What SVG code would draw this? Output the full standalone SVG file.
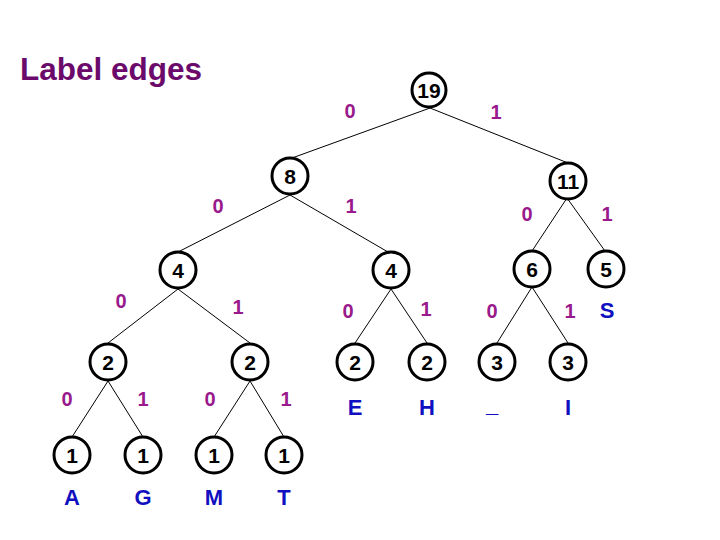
<svg xmlns="http://www.w3.org/2000/svg" width="720" height="540" viewBox="0 0 720 540">
<style>
.n circle{fill:#fff;stroke:#000;stroke-width:3}
.n text{font-family:"Liberation Sans",Arial,sans-serif;font-size:21px;font-weight:bold;fill:#000;text-anchor:middle}
.e line{stroke:#000;stroke-width:1}
.lb{font-family:"Liberation Sans",Arial,sans-serif;font-size:20px;font-weight:bold;fill:#991a8c;text-anchor:middle}
.ch{font-family:"Liberation Sans",Arial,sans-serif;font-size:22px;font-weight:bold;fill:#1010c0;text-anchor:middle}
</style>
<rect width="720" height="540" fill="#fff"/>
<text x="20" y="80" font-family="Liberation Sans,Arial,sans-serif" font-size="31.5" font-weight="bold" fill="#6b0a6b">Label edges</text>
<g id="edges" class="e">
<line x1="430" y1="108" x2="292" y2="158"/>
<line x1="430" y1="108" x2="568" y2="163"/>
<line x1="290" y1="195" x2="178" y2="252"/>
<line x1="290" y1="195" x2="388" y2="252"/>
<line x1="567" y1="198" x2="532" y2="251"/>
<line x1="567" y1="198" x2="605" y2="251"/>
<line x1="178" y1="289" x2="108" y2="343"/>
<line x1="178" y1="289" x2="250" y2="343"/>
<line x1="391" y1="289" x2="355" y2="343"/>
<line x1="391" y1="289" x2="427" y2="343"/>
<line x1="532" y1="287" x2="497" y2="343"/>
<line x1="532" y1="287" x2="568" y2="343"/>
<line x1="108" y1="381" x2="72" y2="437"/>
<line x1="108" y1="381" x2="143" y2="437"/>
<line x1="250" y1="381" x2="214" y2="437"/>
<line x1="250" y1="381" x2="284" y2="437"/>
</g>
<g id="edge-labels">
<text class="lb" x="350" y="118">0</text>
<text class="lb" x="496" y="119">1</text>
<text class="lb" x="218" y="213">0</text>
<text class="lb" x="351" y="213">1</text>
<text class="lb" x="527" y="221">0</text>
<text class="lb" x="607" y="221">1</text>
<text class="lb" x="121" y="308">0</text>
<text class="lb" x="238" y="314">1</text>
<text class="lb" x="348" y="318">0</text>
<text class="lb" x="426" y="316">1</text>
<text class="lb" x="492" y="318">0</text>
<text class="lb" x="570" y="318">1</text>
<text class="lb" x="67" y="406">0</text>
<text class="lb" x="143" y="406">1</text>
<text class="lb" x="210" y="406">0</text>
<text class="lb" x="286" y="406">1</text>
</g>
<g id="n19" class="n"><circle cx="429" cy="90" r="17"/><text x="429" y="97.5">19</text></g>
<g id="n8" class="n"><circle cx="290" cy="176" r="18"/><text x="290" y="183.5">8</text></g>
<g id="n11" class="n"><circle cx="568" cy="181" r="18"/><text x="568" y="188.5">11</text></g>
<g id="n4a" class="n"><circle cx="178" cy="270" r="18"/><text x="178" y="277.5">4</text></g>
<g id="n4b" class="n"><circle cx="391" cy="270" r="18"/><text x="391" y="277.5">4</text></g>
<g id="n6" class="n"><circle cx="532" cy="269" r="18"/><text x="532" y="276.5">6</text></g>
<g id="n5" class="n"><circle cx="606" cy="269" r="18"/><text x="606" y="276.5">5</text></g>
<g id="n2a" class="n"><circle cx="108" cy="362" r="18"/><text x="108" y="369.5">2</text></g>
<g id="n2b" class="n"><circle cx="250" cy="362" r="18"/><text x="250" y="369.5">2</text></g>
<g id="n2e" class="n"><circle cx="355" cy="362" r="18"/><text x="355" y="369.5">2</text></g>
<g id="n2h" class="n"><circle cx="427" cy="362" r="18"/><text x="427" y="369.5">2</text></g>
<g id="n3u" class="n"><circle cx="497" cy="362" r="18"/><text x="497" y="369.5">3</text></g>
<g id="n3i" class="n"><circle cx="568" cy="362" r="18"/><text x="568" y="369.5">3</text></g>
<g id="n1a" class="n"><circle cx="72" cy="455" r="18"/><text x="72" y="462.5">1</text></g>
<g id="n1g" class="n"><circle cx="143" cy="455" r="18"/><text x="143" y="462.5">1</text></g>
<g id="n1m" class="n"><circle cx="214" cy="455" r="18"/><text x="214" y="462.5">1</text></g>
<g id="n1t" class="n"><circle cx="284" cy="455" r="18"/><text x="284" y="462.5">1</text></g>
<g id="chars">
<text class="ch" x="607" y="318">S</text>
<text class="ch" x="355" y="415">E</text>
<text class="ch" x="427" y="415">H</text>
<text class="ch" x="492" y="412">_</text>
<text class="ch" x="568" y="415">I</text>
<text class="ch" x="72" y="505">A</text>
<text class="ch" x="143" y="505">G</text>
<text class="ch" x="214" y="505">M</text>
<text class="ch" x="284" y="505">T</text>
</g>
</svg>
